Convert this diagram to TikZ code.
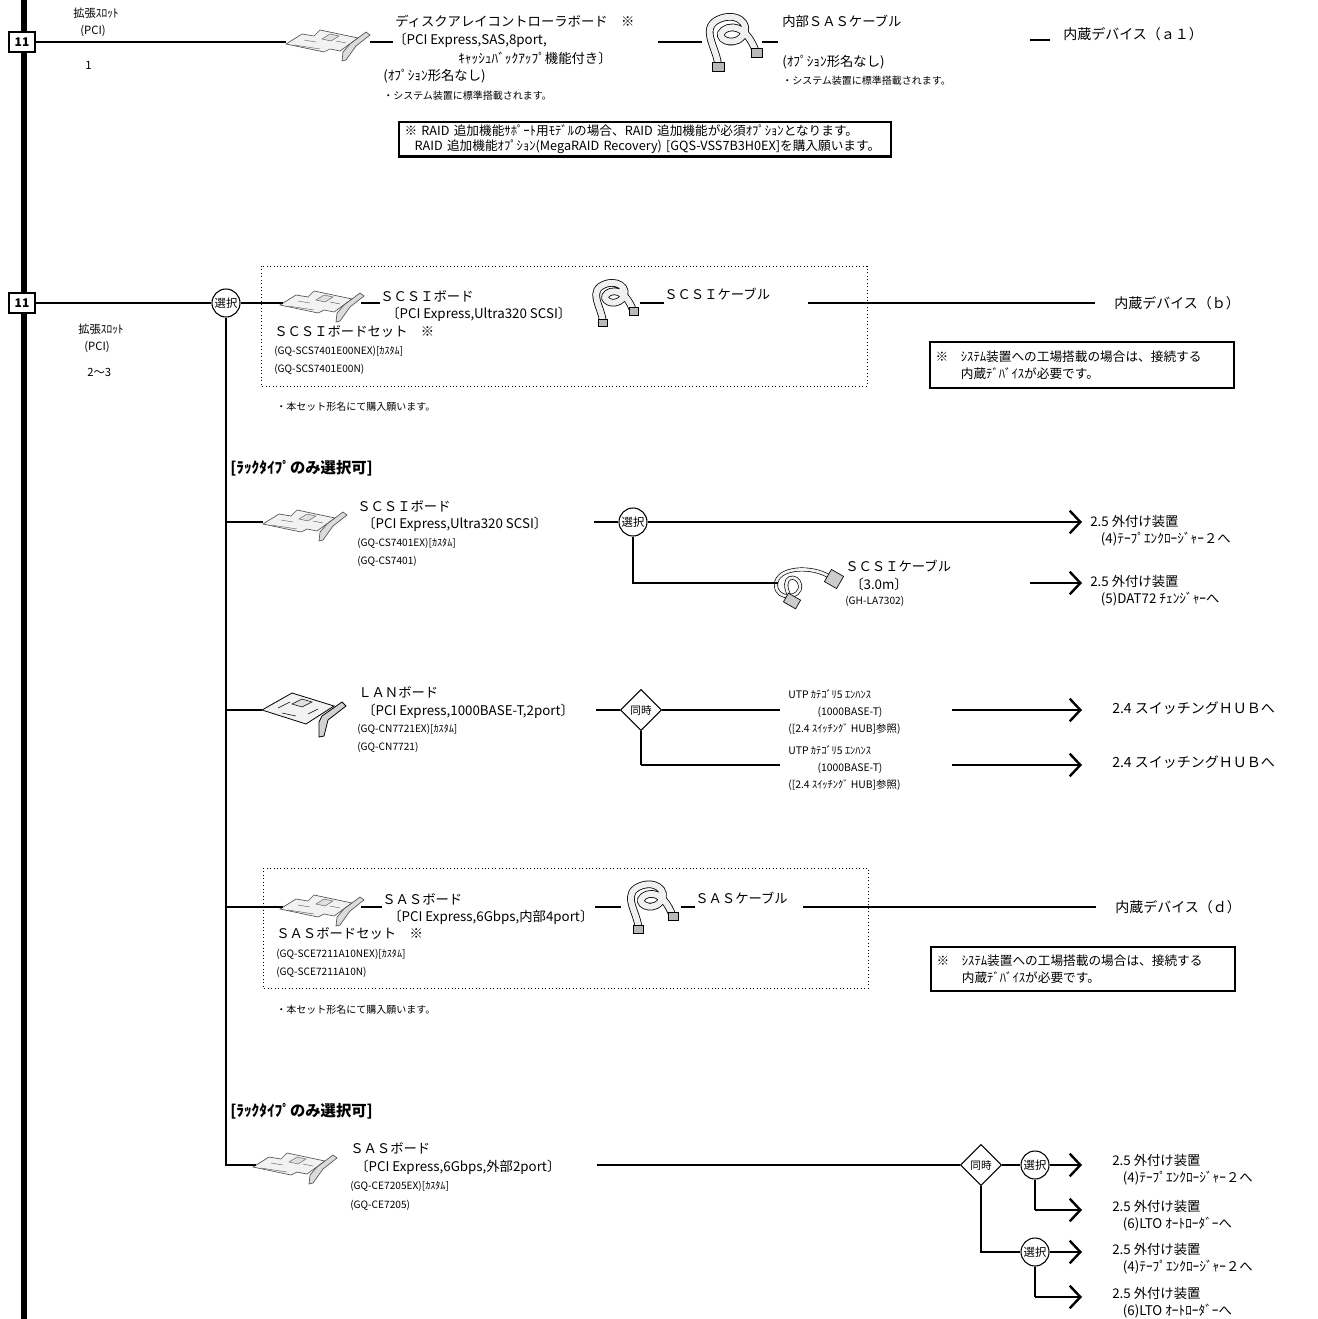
\documentclass[tikz,border=0pt]{standalone}
\usepackage{fontspec}
\setmainfont{Noto Sans CJK JP}
\usetikzlibrary{arrows.meta,shapes.geometric,positioning}

\begin{document}
\begin{tikzpicture}[x=0.75pt, y=-0.75pt]
		\tikzstyle{slotbox} = [rectangle, draw, line width=1.4pt, fill=white, minimum width=19pt, minimum height=15pt, inner sep=0pt, font=\fontsize{9}{9}\selectfont\bfseries]
		\tikzstyle{slottext} = [anchor=west, inner sep=0pt, font=\fontsize{8.5}{10}\selectfont]
		\tikzstyle{headtext} = [anchor=west, inner sep=0pt, font=\fontsize{10}{12}\selectfont]
		\tikzstyle{midtext} = [anchor=west, inner sep=0pt, font=\fontsize{10}{12}\selectfont]
		\tikzstyle{bractext} = [anchor=west, inner sep=0pt, font=\fontsize{10}{12}\selectfont]
		\tikzstyle{codetext} = [anchor=west, inner sep=0pt, font=\fontsize{7.6}{9}\selectfont]
		\tikzstyle{smalltext} = [anchor=west, inner sep=0pt, font=\fontsize{7.5}{9}\selectfont]
		\tikzstyle{racktext} = [anchor=west, inner sep=0pt, font=\fontsize{11.5}{13}\selectfont\bfseries]
		\tikzstyle{devtext} = [anchor=west, inner sep=0pt, font=\fontsize{10.5}{12}\selectfont]
		\tikzstyle{desttext} = [anchor=north west, inner sep=0pt, align=left, font=\fontsize{10}{12.75}\selectfont]
		\tikzstyle{utptext} = [anchor=west, inner sep=0pt, align=left, font=\fontsize{7.8}{13}\selectfont]
		\tikzstyle{notebox} = [rectangle, draw, line width=1.8pt, anchor=north west, align=left, inner xsep=4pt, inner ysep=2pt, font=\fontsize{9.5}{11.25}\selectfont]
		\tikzstyle{choice} = [circle, draw, line width=0.8pt, fill=white, minimum size=21pt, inner sep=0pt, font=\fontsize{8.5}{9}\selectfont]
		\tikzstyle{together} = [diamond, draw, line width=0.8pt, fill=white, minimum width=31pt, minimum height=31pt, inner sep=0pt, font=\fontsize{8}{9}\selectfont]
		\tikzstyle{imgbox} = [rectangle, minimum width=62pt, minimum height=30pt, inner sep=0pt]
		\tikzstyle{setframe} = [draw, dotted, line width=0.6pt]
		\tikzstyle{link} = [line width=0.9pt]
		\tikzstyle{route} = [line width=1.8pt]
		\tikzstyle{toward} = [line width=1.8pt, -{Straight Barb[length=8pt, width=17pt]}]
		% small pictures of boards and cables
		\tikzset{
			card/.pic={
				\draw[draw=gray!65!black, fill=gray!10, line width=0.5pt] (-42,2) -- (-26,-8) -- (-14,-6) -- (-8,-12) -- (30,-4) -- (12,9) -- (2,7) -- (-4,10) -- cycle;
				\draw[draw=gray!65!black, fill=gray!25, line width=0.3pt] (-6,-3) -- (2,-8) -- (11,-6) -- (3,-1) -- cycle;
				\draw[gray!65!black, line width=0.3pt] (-34,3) -- (-8,7) (-24,-2) -- (-12,0) (8,-1) -- (18,1);
				\draw[draw=gray!65!black, fill=gray!28, line width=0.5pt] (22,2) -- (38,-10) -- (42,-7) -- (28,4) -- (18,18) -- (14,19) -- (15,10) -- cycle;
			},
			lancard/.pic={
				\draw[fill=gray!10, line width=0.6pt] (-42,0) -- (-12,-17) -- (30,-4) -- (2,14) -- cycle;
				\draw[fill=gray!25, line width=0.4pt] (-12,-6) -- (-2,-11) -- (8,-8) -- (-2,-3) -- cycle;
				\draw[line width=0.4pt] (-26,-2) -- (-14,-8) (-22,3) -- (-8,6) (4,4) -- (14,-1);
				\draw[fill=gray!35, line width=0.6pt] (18,6) -- (38,-8) -- (42,-4) -- (24,10) -- (20,26) -- (15,27) -- (15,12) -- cycle;
			},
			flatcable/.pic={
				\draw[double=gray!12, double distance=4.5pt, line width=0.6pt] (-14,22) .. controls (-16,4) and (-34,-16) .. (-10,-24) .. controls (10,-30) and (22,-12) .. (6,-2) .. controls (-6,4) and (-20,-8) .. (-4,-14) .. controls (10,-18) and (20,-2) .. (24,10);
				\draw[fill=gray!55, line width=0.5pt] (-20,20) rectangle (-8,29);
				\draw[fill=gray!55, line width=0.5pt] (19,6) rectangle (30,15);
			},
			roundcable/.pic={
				\draw[double=gray!10, double distance=2pt, line width=0.5pt] (22,-6) .. controls (4,-18) and (-32,-16) .. (-32,2) .. controls (-32,18) and (-6,16) .. (-8,2) .. controls (-10,-10) and (-30,-8) .. (-18,14);
				\draw[fill=gray!40, line width=0.5pt, rotate around={-30:(26,-4)}] (19,-11) rectangle (33,3);
				\draw[fill=gray!40, line width=0.5pt, rotate around={-30:(-16,18)}] (-23,13) rectangle (-9,23);
			}
		}
		\useasboundingbox (0,0) rectangle (1317,1319);

		% Expansion bus
		\draw[line width=3.8pt] (24,0) -- (24,1319);

		% Slot 1: disk array controller
		\node[slotbox] (slot1) at (22,42) {11};
		\node[slottext] (slotA1) at (73,13) {拡張ｽﾛｯﾄ};
		\node[slottext] (slotA2) at (80,31) {(PCI)};
		\node[slottext] (slotA3) at (85,65) {1};
		\node[imgbox, minimum width=63pt] (cardA) at (328,42) {};
		\pic at (cardA) {card};
		\node[headtext] (dacA1) at (395,21) {ディスクアレイコントローラボード　※};
		\node[bractext] (dacA2) at (393,40) {〔PCI Express,SAS,8port,};
		\node[bractext] (dacA3) at (458,58) {ｷｬｯｼｭﾊﾞｯｸｱｯﾌﾟ機能付き〕};
		\node[midtext] (dacA4) at (383,76) {(ｵﾌﾟｼｮﾝ形名なし)};
		\node[smalltext] (dacA5) at (383,96) {・システム装置に標準搭載されます。};
		\coordinate (dacout) at (658,42);
		\node[imgbox, minimum width=44pt, minimum height=45pt] (cableA) at (732,42) {};
		\pic at (cableA) {flatcable};
		\node[headtext] (cabA1) at (782,21) {内部ＳＡＳケーブル};
		\node[midtext] (cabA2) at (782,62) {(ｵﾌﾟｼｮﾝ形名なし)};
		\node[smalltext] (cabA3) at (782,81) {・システム装置に標準搭載されます。};
		\coordinate (cabout) at (778,42);
		\coordinate (devaout) at (1030,40);
		\node[devtext] (devA) at (1063,34) {内蔵デバイス（ａ１）};
		\node[notebox, text width=361pt] (raidnote) at (398,121) {※ RAID 追加機能ｻﾎﾟｰﾄ用ﾓﾃﾞﾙの場合、RAID 追加機能が必須ｵﾌﾟｼｮﾝとなります。\\\hspace*{0.8em}RAID 追加機能ｵﾌﾟｼｮﾝ(MegaRAID Recovery) [GQS-VSS7B3H0EX]を購入願います。};

		\draw[link] (slot1) -- (cardA);
		\draw[link] (cardA) -- (cardA -| dacA2.west);
		\draw[link] (dacout) -- (cableA);
		\draw[link] (cableA) -- (cabout);
		\draw[link, shorten >=10pt] (devaout) -- (devaout -| devA.west);

		% Slot 2-3: selection
		\node[slotbox] (slot2) at (22,303) {11};
		\node[slottext] (slotB1) at (78,329) {拡張ｽﾛｯﾄ};
		\node[slottext] (slotB2) at (84,347) {(PCI)};
		\node[slottext] (slotB3) at (87,372) {2～3};
		\node[choice] (choice1) at (226,303) {選択};
		\draw[link] (slot2) -- (choice1);

		% SCSI board set
		\draw[setframe] (261,266) rectangle (867,386);
		\node[imgbox, minimum width=58pt] (cardB) at (322,303) {};
		\pic at (cardB) {card};
		\node[headtext] (scsiA1) at (380,296) {ＳＣＳＩボード};
		\node[bractext] (scsiA2) at (386,314) {〔PCI Express,Ultra320 SCSI〕};
		\node[headtext] (scsiA3) at (274,332) {ＳＣＳＩボードセット　※};
		\node[codetext] (scsiA4) at (274,351) {(GQ-SCS7401E00NEX)[ｶｽﾀﾑ]};
		\node[codetext] (scsiA5) at (274,369) {(GQ-SCS7401E00N)};
		\node[imgbox, minimum width=38pt, minimum height=32pt] (cableB) at (614,303) {};
		\pic[scale=0.8] at (cableB) {flatcable};
		\node[headtext] (scsiA6) at (664,294) {ＳＣＳＩケーブル};
		\coordinate (scsiout) at (808,303);
		\node[devtext] (devB) at (1114,303) {内蔵デバイス（ｂ）};
		\node[notebox, text width=220pt, minimum height=34.5pt, font=\fontsize{9.5}{12.75}\selectfont] (devnote1) at (929,341) {※　ｼｽﾃﾑ装置への工場搭載の場合は、接続する\\\hspace*{2em}内蔵ﾃﾞﾊﾞｲｽが必要です。};
		\node[smalltext] (setnote1) at (276,407) {・本セット形名にて購入願います。};

		\draw[link] (choice1) -- (cardB);
		\draw[link] (cardB) -- (cardB -| scsiA1.west);
		\draw[link] (cableB) -- (cableB -| scsiA6.west);
		\draw[link, shorten >=14pt] (scsiout) -- (devB);

		% SCSI board (rack type only)
		\node[racktext] (rack1) at (230,468) {[ﾗｯｸﾀｲﾌﾟのみ選択可]};
		\node[imgbox] (cardC) at (305,522) {};
		\pic at (cardC) {card};
		\node[headtext] (scsiB1) at (357,506) {ＳＣＳＩボード};
		\node[bractext] (scsiB2) at (362,524) {〔PCI Express,Ultra320 SCSI〕};
		\node[codetext] (scsiB3) at (357,543) {(GQ-CS7401EX)[ｶｽﾀﾑ]};
		\node[codetext] (scsiB4) at (357,561) {(GQ-CS7401)};
		\coordinate (scsiBout) at (594,522);
		\node[choice] (choice2) at (633,522) {選択};
		\coordinate (tip1) at (1082,522);
		\node[desttext] (dest1) at (1090,515) {2.5 外付け装置\\\hspace*{8pt}(4)ﾃｰﾌﾟｴﾝｸﾛｰｼﾞｬｰ２へ};
		\node[imgbox, minimum width=45pt, minimum height=34pt] (cableC) at (808,583) {};
		\pic at (cableC) {roundcable};
		\node[headtext] (scsiC1) at (845,566) {ＳＣＳＩケーブル};
		\node[bractext] (scsiC2) at (850,584) {〔3.0m〕};
		\node[codetext] (scsiC3) at (845,601) {(GH-LA7302)};
		\coordinate (cabCout) at (1030,583);
		\coordinate (tip2) at (1082,583);
		\node[desttext] (dest2) at (1090,575) {2.5 外付け装置\\\hspace*{8pt}(5)DAT72 ﾁｪﾝｼﾞｬｰへ};

		\draw[link] (choice1.south |- cardC) -- (cardC);
		\draw[link] (scsiBout) -- (choice2);
		\draw[toward] (choice2) -- (tip1);
		\draw[route] (choice2) |- (cableC);
		\draw[toward] (cabCout) -- (tip2);

		% LAN board
		\node[imgbox, minimum height=42pt] (cardD) at (304,710) {};
		\pic at (cardD) {lancard};
		\node[headtext] (lanA1) at (358,692) {ＬＡＮボード};
		\node[bractext] (lanA2) at (362,711) {〔PCI Express,1000BASE-T,2port〕};
		\node[codetext] (lanA3) at (357,729) {(GQ-CN7721EX)[ｶｽﾀﾑ]};
		\node[codetext] (lanA4) at (357,747) {(GQ-CN7721)};
		\coordinate (lanout) at (596,710);
		\node[together] (same1) at (641,710) {同時};
		\coordinate (utpAin) at (780,710);
		\node[utptext] (utpA) at (788,712) {UTP ｶﾃｺﾞﾘ5 ｴﾝﾊﾝｽ\\\hspace*{22pt}(1000BASE-T)\\([2.4 ｽｲｯﾁﾝｸﾞ HUB]参照)};
		\coordinate (utpAout) at (952,710);
		\coordinate (tip3) at (1082,710);
		\node[devtext] (hubA) at (1112,708) {2.4 スイッチングＨＵＢへ};
		\coordinate (utpBin) at (780,765);
		\node[utptext] (utpB) at (788,768) {UTP ｶﾃｺﾞﾘ5 ｴﾝﾊﾝｽ\\\hspace*{22pt}(1000BASE-T)\\([2.4 ｽｲｯﾁﾝｸﾞ HUB]参照)};
		\coordinate (utpBout) at (952,765);
		\coordinate (tip4) at (1082,765);
		\node[devtext] (hubB) at (1112,762) {2.4 スイッチングＨＵＢへ};

		\draw[link] (choice1.south |- cardD) -- (cardD);
		\draw[link] (lanout) -- (same1);
		\draw[route] (same1) -- (utpAin);
		\draw[toward] (utpAout) -- (tip3);
		\draw[link] (same1) -- (same1.south |- utpBin);
		\draw[route] (same1.south |- utpBin) -- (utpBin);
		\draw[toward] (utpBout) -- (tip4);

		% SAS board set (internal)
		\draw[setframe] (263,868) rectangle (868,988);
		\node[imgbox, minimum width=58pt] (cardE) at (322,907) {};
		\pic at (cardE) {card};
		\node[headtext] (sasA1) at (382,899) {ＳＡＳボード};
		\node[bractext] (sasA2) at (388,917) {〔PCI Express,6Gbps,内部4port〕};
		\coordinate (sasAout) at (595,907);
		\node[imgbox, minimum width=44pt, minimum height=40pt] (cableE) at (651,907) {};
		\pic[scale=0.9] at (cableE) {flatcable};
		\node[headtext] (sasA6) at (695,898) {ＳＡＳケーブル};
		\coordinate (sasCout) at (803,907);
		\node[devtext] (devD) at (1115,907) {内蔵デバイス（ｄ）};
		\node[headtext] (sasA3) at (276,934) {ＳＡＳボードセット　※};
		\node[codetext] (sasA4) at (276,954) {(GQ-SCE7211A10NEX)[ｶｽﾀﾑ]};
		\node[codetext] (sasA5) at (276,972) {(GQ-SCE7211A10N)};
		\node[smalltext] (setnote2) at (276,1010) {・本セット形名にて購入願います。};
		\node[notebox, text width=220pt, minimum height=33pt, font=\fontsize{9.5}{12.75}\selectfont] (devnote2) at (930,946) {※　ｼｽﾃﾑ装置への工場搭載の場合は、接続する\\\hspace*{2em}内蔵ﾃﾞﾊﾞｲｽが必要です。};

		\draw[link] (choice1.south |- cardE) -- (cardE);
		\draw[link] (cardE) -- (cardE -| sasA1.west);
		\draw[link] (sasAout) -- (cableE);
		\draw[link] (cableE) -- (cableE -| sasA6.west);
		\draw[link, shorten >=14pt] (sasCout) -- (devD);

		% SAS board (rack type only)
		\node[racktext] (rack2) at (230,1111) {[ﾗｯｸﾀｲﾌﾟのみ選択可]};
		\node[imgbox, minimum width=58pt] (cardF) at (295,1165) {};
		\pic at (cardF) {card};
		\node[headtext] (sasB1) at (350,1148) {ＳＡＳボード};
		\node[bractext] (sasB2) at (355,1167) {〔PCI Express,6Gbps,外部2port〕};
		\node[codetext] (sasB3) at (350,1186) {(GQ-CE7205EX)[ｶｽﾀﾑ]};
		\node[codetext] (sasB4) at (350,1205) {(GQ-CE7205)};
		\coordinate (sasBout) at (597,1165);
		\node[together] (same2) at (981,1165) {同時};
		\node[choice] (choice3) at (1035,1165) {選択};
		\node[choice] (choice4) at (1035,1252) {選択};
		\coordinate (tip5) at (1082,1165);
		\coordinate (tip6) at (1082,1210);
		\coordinate (tip7) at (1082,1252);
		\coordinate (tip8) at (1082,1297);
		\node[desttext] (dest3) at (1112,1154) {2.5 外付け装置\\\hspace*{8pt}(4)ﾃｰﾌﾟｴﾝｸﾛｰｼﾞｬｰ２へ};
		\node[desttext] (dest4) at (1112,1200) {2.5 外付け装置\\\hspace*{8pt}(6)LTO ｵｰﾄﾛｰﾀﾞｰへ};
		\node[desttext] (dest5) at (1112,1243) {2.5 外付け装置\\\hspace*{8pt}(4)ﾃｰﾌﾟｴﾝｸﾛｰｼﾞｬｰ２へ};
		\node[desttext] (dest6) at (1112,1287) {2.5 外付け装置\\\hspace*{8pt}(6)LTO ｵｰﾄﾛｰﾀﾞｰへ};

		\draw[link] (choice1) |- (cardF);
		\draw[link] (sasBout) -- (same2);
		\draw[link] (same2) -- (choice3);
		\draw[toward] (choice3) -- (tip5);
		\draw[link] (choice3) -- (choice3 |- tip6);
		\draw[toward] (choice3 |- tip6) -- (tip6);
		\draw[link] (same2) |- (choice4);
		\draw[toward] (choice4) -- (tip7);
		\draw[link] (choice4) -- (choice4 |- tip8);
		\draw[toward] (choice4 |- tip8) -- (tip8);
	\end{tikzpicture}
\end{document}
